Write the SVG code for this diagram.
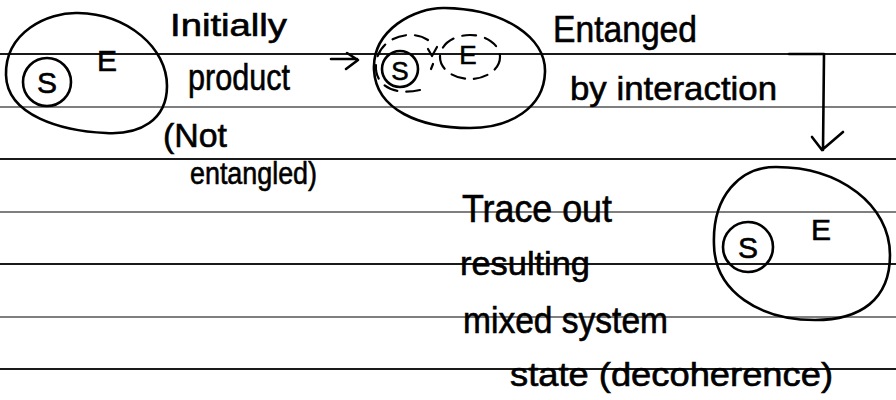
<svg xmlns="http://www.w3.org/2000/svg" width="896" height="400" viewBox="0 0 896 400">
<style>
.rule-d{stroke:#1a1a1a;stroke-width:1.8}
.rule-g{stroke:#7f7f7f;stroke-width:1.8}
.ink{fill:none;stroke:#000;stroke-width:2.6;stroke-linecap:round;stroke-linejoin:round}
.ink-t{fill:none;stroke:#000;stroke-width:2.2;stroke-linecap:round;stroke-linejoin:round}
.dash{fill:none;stroke:#000;stroke-width:2.2;stroke-linecap:round;stroke-dasharray:14 9}
.hw{font-family:"Liberation Sans","DejaVu Sans",sans-serif;font-size:34px;fill:#000;stroke:#000;stroke-width:0.6}
.sym{font-family:"Liberation Sans","DejaVu Sans",sans-serif;font-size:30px;fill:#000;stroke:#000;stroke-width:0.6;text-anchor:middle}
</style>
<rect width="896" height="400" fill="#fff"/>
<g id="rules">
<line class="rule-d" x1="0" y1="54" x2="896" y2="54"/>
<line class="rule-g" x1="0" y1="107" x2="896" y2="107"/>
<line class="rule-d" x1="0" y1="159" x2="896" y2="159"/>
<line class="rule-g" x1="0" y1="212" x2="896" y2="212"/>
<line class="rule-d" x1="0" y1="264" x2="896" y2="264"/>
<line class="rule-g" x1="0" y1="317" x2="896" y2="317"/>
<line class="rule-d" x1="0" y1="369" x2="896" y2="369"/>
</g>
<g id="node-initial">
<path class="ink" d="M6,75 C5,32 48,12 78,13 C128,14 167,48 167,86 C167,120 140,135 106,133 C62,131 7,116 6,75 Z"/>
<circle class="ink" cx="47" cy="82" r="24"/>
<text class="sym" x="47" y="93">S</text>
<text class="sym" x="107" y="71">E</text>
</g>
<g id="node-entangled">
<path class="ink" d="M374,70 C372,30 415,7 445,8 C505,9 546,38 545,72 C544,108 510,128 470,128 C420,128 376,110 374,70 Z"/>
<circle class="ink" cx="400" cy="69" r="18"/>
<path class="dash" d="M428,40 C410,28 378,38 376,64 C374,86 395,96 420,90"/>
<text class="sym" x="400" y="80" style="font-size:26px">S</text>
<path class="ink-t" d="M428,49 L432,56 L437,47"/>
<path class="ink-t" d="M433,64 L431,69"/>
<ellipse class="dash" cx="470" cy="57" rx="30" ry="22"/>
<text class="sym" x="468" y="64" style="font-size:26px">E</text>
</g>
<g id="node-decohered">
<path class="ink" d="M714,245 C712,196 740,167 776,167 C840,167 890,205 890,255 C890,300 860,320 815,320 C760,320 715,292 714,245 Z"/>
<circle class="ink" cx="748" cy="247" r="25"/>
<text class="sym" x="748" y="258">S</text>
<text class="sym" x="821" y="240">E</text>
</g>
<g id="labels">
<text class="hw" x="170" y="36" style="font-size:31px" textLength="117" lengthAdjust="spacingAndGlyphs">Initially</text>
<text class="hw" x="188" y="90" style="font-size:37px" textLength="102" lengthAdjust="spacingAndGlyphs">product</text>
<text class="hw" x="163" y="147" textLength="64" lengthAdjust="spacingAndGlyphs">(Not</text>
<text class="hw" x="190" y="184" style="font-size:31px" textLength="127" lengthAdjust="spacingAndGlyphs">entangled)</text>
<text class="hw" x="553" y="42" style="font-size:37px" textLength="144" lengthAdjust="spacingAndGlyphs">Entanged</text>
<text class="hw" x="570" y="100" textLength="207" lengthAdjust="spacingAndGlyphs">by interaction</text>
<text class="hw" x="462" y="222" style="font-size:38px" textLength="150" lengthAdjust="spacingAndGlyphs">Trace out</text>
<text class="hw" x="460" y="275" textLength="130" lengthAdjust="spacingAndGlyphs">resulting</text>
<text class="hw" x="463" y="333" style="font-size:36px" textLength="205" lengthAdjust="spacingAndGlyphs">mixed system</text>
<text class="hw" x="510" y="386" textLength="323" lengthAdjust="spacingAndGlyphs">state (decoherence)</text>
</g>
<g id="connectors">
<path class="ink" d="M331,59 L357,59 M347,53 L358,60 L346,69"/>
<path class="ink" d="M789,54 L824,54 L823,150 M812,137 L822,150 L843,132"/>
</g>
</svg>
